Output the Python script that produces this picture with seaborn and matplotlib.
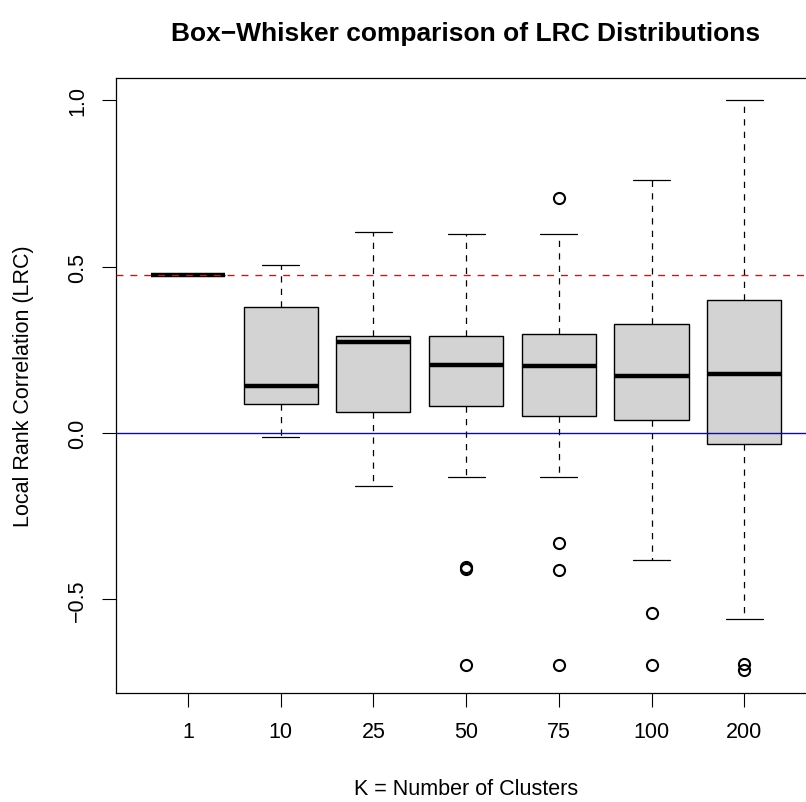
import matplotlib
matplotlib.use("Agg")
import matplotlib.pyplot as plt
import seaborn as sns
import pandas as pd

# ---- data ----
categories = ["1", "10", "25", "50", "75", "100", "200"]
whisker_lo = [0.475, -0.011, -0.160, -0.133, -0.133, -0.381, -0.560]
q1_vals    = [0.475, 0.088, 0.062, 0.080, 0.052, 0.040, -0.034]
medians    = [0.475, 0.141, 0.274, 0.205, 0.201, 0.170, 0.178]
q3_vals    = [0.475, 0.378, 0.292, 0.292, 0.299, 0.329, 0.399]
whisker_hi = [0.475, 0.504, 0.604, 0.599, 0.599, 0.760, 1.000]
outliers   = [[], [], [], [-0.402, -0.410, -0.696],
              [0.707, -0.330, -0.412, -0.696], [-0.540, -0.696],
              [-0.695, -0.713]]
ref_red = 0.475
ref_blue = 0.0
yticks = [-0.5, 0.0, 0.5, 1.0]
ytick_labels = ["\u22120.5", "0.0", "0.5", "1.0"]

# Build per-group samples whose five-number summary equals the values read above
rows = []
for k, wl, a, m, b, wh, out in zip(categories, whisker_lo, q1_vals, medians,
                                   q3_vals, whisker_hi, outliers):
    vals = list(out) + [wl] + [a] * 20 + [m] * 20 + [b] * 20 + [wh]
    rows += [(k, v) for v in vals]
df = pd.DataFrame(rows, columns=["K", "LRC"])

sns.set_style("white")
plt.rcParams["font.family"] = ["Liberation Sans", "DejaVu Sans"]
plt.rcParams["text.color"] = "black"
plt.rcParams["axes.labelcolor"] = "black"
plt.rcParams["xtick.color"] = "black"
plt.rcParams["ytick.color"] = "black"

fig = plt.figure(figsize=(8.06, 8.03), dpi=100)
ax = fig.add_axes([0.1435, 0.1357, 0.8696, 0.7665])

sns.boxplot(data=df, x="K", y="LRC", order=categories, ax=ax,
            color="#D3D3D3", saturation=1, linecolor="black", linewidth=1.0,
            width=0.8,
            whiskerprops=dict(linestyle=(0, (5, 5)), linewidth=0.9),
            capprops=dict(linewidth=0.9),
            medianprops=dict(linewidth=3.2, color="black"),
            flierprops=dict(marker="o", markersize=8, markerfacecolor="none",
                            markeredgecolor="black", markeredgewidth=1.5))

ax.axhline(ref_red, color="#FF0000", linestyle=(0, (5, 5)), linewidth=1.0, zorder=10)
ax.axhline(ref_blue, color="#0000FF", linewidth=1.0, zorder=10)

ax.set_xlim(-0.78, 6.78)
ax.set_ylim(-0.7815, 1.0685)
ax.set_yticks(yticks)
ax.set_yticklabels(ytick_labels)

for s in ax.spines.values():
    s.set_visible(True)
    s.set_color("black")
    s.set_linewidth(0.9)

ax.tick_params(axis="both", which="major", direction="out", length=10,
               width=0.8, color="black", labelcolor="black", labelsize=15.5,
               pad=10, bottom=True, left=True, top=False, right=False)
ax.tick_params(axis="y", labelrotation=90)
for lab in ax.get_yticklabels():
    lab.set_va("center")

ax.set_xlabel("K = Number of Clusters", fontsize=15.5, color="black")
ax.set_ylabel("Local Rank Correlation (LRC)", fontsize=15.5, color="black")
ax.xaxis.set_label_coords(0.5, -0.138)
ax.yaxis.set_label_coords(-0.116, 0.5)

fig.text(466 / 806, 1 - 34 / 803, "Box\u2212Whisker comparison of LRC Distributions",
         ha="center", va="center", fontsize=19, fontweight="bold", color="black")

fig.savefig("out.png", dpi=100)
